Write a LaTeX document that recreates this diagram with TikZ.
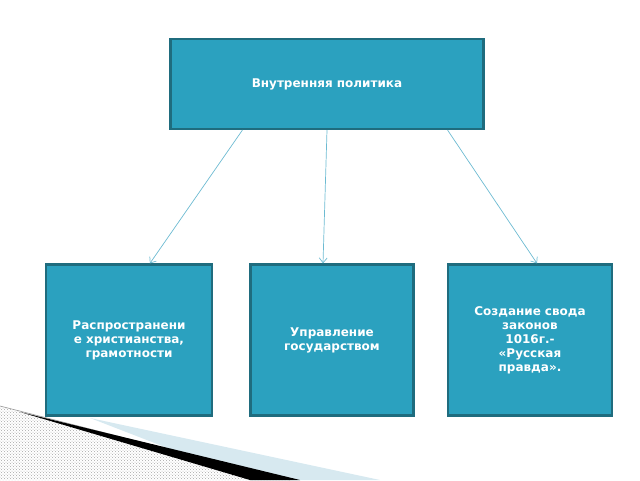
\documentclass[tikz,border=0pt]{standalone}
\usepackage{fontspec}
\setmainfont{DejaVu Sans}
\usetikzlibrary{positioning,patterns,arrows.meta}
\definecolor{boxfill}{HTML}{2BA1BF}
\definecolor{boxline}{HTML}{1F6C7E}
\definecolor{arrowcol}{HTML}{6DBBD2}
\definecolor{paleblue}{HTML}{D7E9F0}
\tikzset{
  box/.style={draw=boxline, fill=boxfill, line width=2.2pt, text=white,
    font=\bfseries\fontsize{12}{14}\selectfont, align=center, inner sep=4pt},
  line/.style={draw=arrowcol, line width=0.7pt, -{Straight Barb[length=5pt,width=8pt]}}
}
\begin{document}
\begin{tikzpicture}[x=1pt,y=-1pt]
		\useasboundingbox (0,0) rectangle (640,480);
		
		% decoration bottom left
		\fill[paleblue] (90,418) -- (380,480) -- (250,480) -- cycle;
		\fill[pattern=crosshatch dots, pattern color=gray!70] (0,406) -- (290,480) -- (0,480) -- cycle;
		\draw[gray!80, line width=0.6pt] (0,406) -- (290,480);
		\fill[black] (20,412) -- (300,480) -- (250,480) -- cycle;
		
		\node[box, minimum width=313pt, minimum height=90pt] (top) at (327,84) {Внутренняя политика};
		
		\node[box, minimum width=166pt, minimum height=151pt, text width=158pt] (left) at (129,340) {Распространени\\е христианства,\\грамотности};
		\node[box, minimum width=163pt, minimum height=151pt, text width=155pt] (mid) at (332,340) {Управление\\государством};
		\node[box, minimum width=164pt, minimum height=151pt, text width=156pt] (right) at (530,340) {Создание свода\\законов\\1016г.-\\«Русская\\правда».};
		
		\draw[line] (top.south west) ++(73,0) -- ([xshift=105pt]left.north west);
		\draw[line] (top.south) -- ([xshift=-9pt]mid.north);
		\draw[line] (top.south east) ++(-37,0) -- ([xshift=7pt]right.north);
\end{tikzpicture}
\end{document}
